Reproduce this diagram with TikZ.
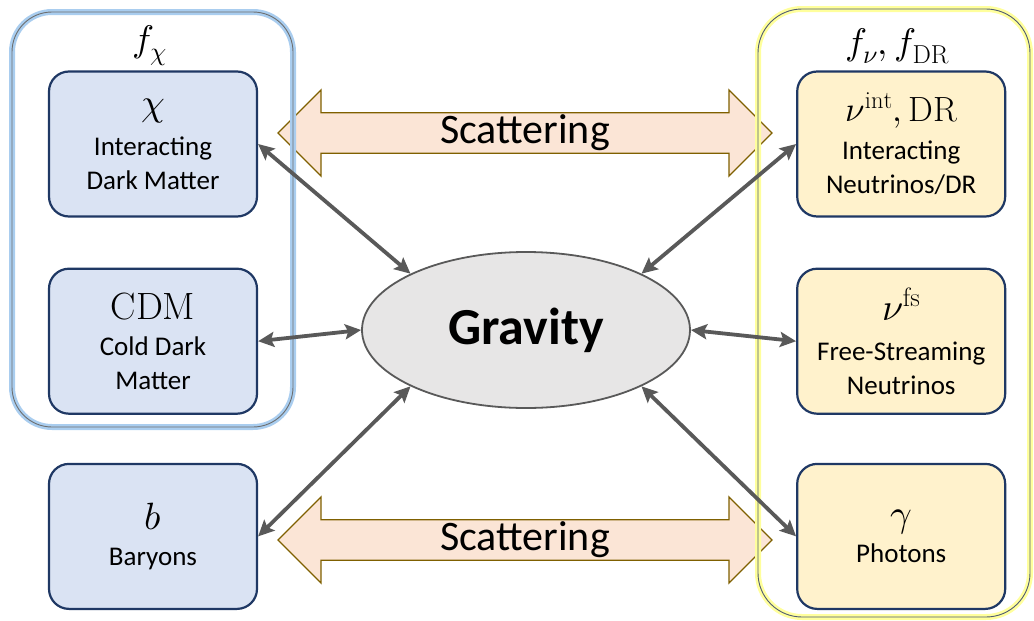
\documentclass[tikz,border=0pt]{standalone}
\usepackage{fontspec}
\usepackage{unicode-math}
\setmathfont{Latin Modern Math}
\newfontfamily\calibri{Carlito}
\usetikzlibrary{shapes.geometric, shapes.arrows, arrows.meta, positioning}
\definecolor{dmfill}{HTML}{DAE3F3}
\definecolor{nufill}{HTML}{FFF2CC}
\definecolor{boxline}{HTML}{1F3864}
\definecolor{scatfill}{HTML}{FBE5D6}
\definecolor{scatline}{HTML}{7F6000}
\definecolor{gravfill}{HTML}{E7E6E6}
\definecolor{linkgray}{HTML}{595959}
\definecolor{glowblue}{HTML}{A9CDEF}
\definecolor{glowyellow}{HTML}{FFFF9C}
\definecolor{rimgray}{HTML}{6E6E6E}
\definecolor{rimslate}{HTML}{4F5B73}
\newcommand{\symsize}{\fontsize{38}{44}\selectfont}
\tikzset{
  % cornice di un gruppo di specie
  group dm/.style={rounded corners=40pt, draw=rimgray, line width=0.9pt,
    preaction={draw=glowblue, line width=6pt}},
  group nu/.style={rounded corners=44pt, draw=rimslate, line width=0.9pt,
    preaction={draw=glowyellow, line width=6pt}},
  % titolo del gruppo
  grouptitle/.style={font=\fontsize{37}{42}\selectfont, inner sep=0pt},
  % scatola di una specie
  species/.style={draw=boxline, line width=2.2pt, rounded corners=20pt,
    minimum width=208pt, minimum height=145pt, align=center, inner sep=0pt,
    font=\calibri\fontsize{27}{34}\selectfont},
  dmbox/.style={species, fill=dmfill},
  nubox/.style={species, fill=nufill},
  % nodo centrale
  gravity/.style={ellipse, draw=linkgray, line width=1.8pt, fill=gravfill,
    minimum width=328pt, minimum height=156pt, inner sep=0pt,
    font=\calibri\bfseries\fontsize{52}{60}\selectfont},
  % freccia doppia dello scattering
  scatter/.style={double arrow, draw=scatline, fill=scatfill, line width=1.3pt,
    minimum height=494pt, minimum width=86pt, double arrow head extend=21pt,
    double arrow head indent=0pt, inner sep=0pt,
    font=\calibri\fontsize{42}{48}\selectfont},
  % collegamento gravitazionale
  link/.style={{Stealth[length=16pt, width=15pt, inset=3pt]}-{Stealth[length=16pt, width=15pt, inset=3pt]},
    line width=3.8pt, draw=linkgray},
}

\begin{document}
\begin{tikzpicture}[x=1pt, y=-1pt]
  \useasboundingbox (0,0) rectangle (1034,621);
  \node[scatter] (scattop) at (525,133) {Scattering};
  \node[scatter] (scatbot) at (525,540) {Scattering};
  \draw[group dm] (12,12) rectangle (293,427);
  \draw[group nu] (758,9) rectangle (1030,617);
  \node[grouptitle] (fchi) at (150,46) {$f_\chi$};
  \node[grouptitle] (fnu) at (897,46) {$f_\nu, f_{\mathrm{DR}}$};
  \node[dmbox] (chi) at (153,144) {{\symsize$\chi$}\\[6pt]Interacting\\Dark Matter};
  \node[dmbox, below=50pt of chi] (cdm) {{\symsize$\mathrm{CDM}$}\\[2pt]Cold Dark\\Matter};
  \node[dmbox, below=48pt of cdm] (bar) {{\symsize$b$}\\[2pt]Baryons};
  \node[nubox, right=538pt of chi] (nuint) {{\fontsize{35}{40}\selectfont$\nu^{\mathrm{int}}, \mathrm{DR}$}\\[4pt]Interacting\\Neutrinos/DR};
  \node[nubox, right=538pt of cdm] (nufs) {{\symsize$\nu^{\mathrm{fs}}$}\\[6pt]Free-Streaming\\Neutrinos};
  \node[nubox, right=538pt of bar] (gam) {{\symsize$\gamma$}\\[2pt]Photons};
  \node[gravity] (grav) at (526,330) {Gravity};
  \draw[link] (chi.east) -- (grav.154);
  \draw[link] (cdm.east) -- (grav.west);
  \draw[link] (bar.east) -- (grav.206);
  \draw[link] (nuint.west) -- (grav.26);
  \draw[link] (nufs.west) -- (grav.east);
  \draw[link] (gam.west) -- (grav.334);
\end{tikzpicture}
\end{document}
